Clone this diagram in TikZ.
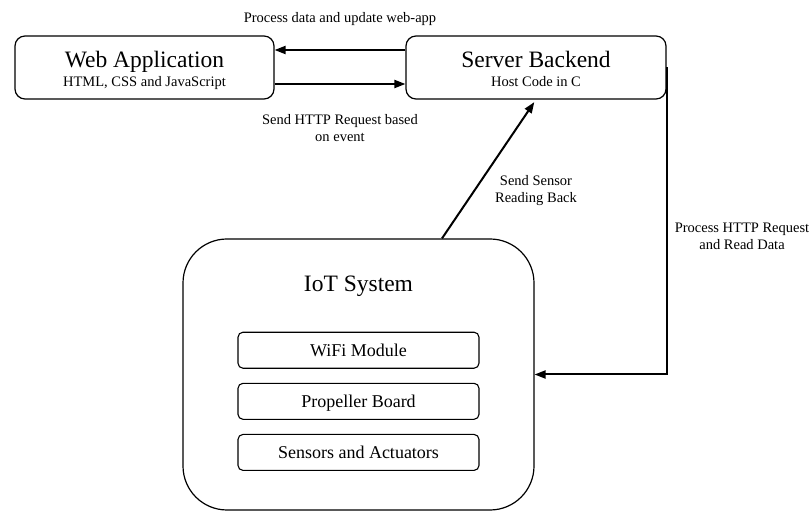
\documentclass[tikz,border=0pt]{standalone}
\usepackage{fontspec}
\setmainfont{Liberation Serif}
\usetikzlibrary{arrows.meta,positioning}

\begin{document}
\begin{tikzpicture}[
    x=1pt, y=1pt,
    node distance=14pt,
    every node/.style={align=center, inner sep=0pt},
    box/.style={rectangle, draw, line width=1.2pt, rounded corners=10pt, minimum width=259pt, minimum height=63pt},
    systembox/.style={rectangle, draw, line width=1.2pt, rounded corners=44pt, minimum width=351pt, minimum height=271pt},
    module/.style={rectangle, draw, line width=1.1pt, rounded corners=5pt, minimum width=241pt, minimum height=36pt, text height=13pt, text depth=0pt, font=\fontsize{18}{22}\selectfont},
    heading/.style={font=\fontsize{23.5}{28}\selectfont},
    lbl/.style={font=\fontsize{14.5}{17}\selectfont},
    arrow/.style={-{Triangle[length=11pt, width=8pt]}, line width=2pt}
]
\useasboundingbox (0,0) rectangle (811,522);

% web-app and backend
\node[box] (web) at (144.5,454.5) {};
\node[box, minimum width=260pt] (server) at (536,454.5) {};
\node[heading, anchor=base] (webtitle) at ([yshift=-0.5pt]web.center) {Web Application};
\node[lbl, anchor=base] (websub) at ([yshift=-19.5pt]web.center) {HTML, CSS and JavaScript};
\node[heading, anchor=base] (servertitle) at ([yshift=-0.5pt]server.center) {Server Backend};
\node[lbl, anchor=base] (serversub) at ([yshift=-19.5pt]server.center) {Host Code in C};

% the IoT system and its parts
\node[systembox] (iot) at (358.5,147.5) {};
\node[heading, anchor=base] (iottitle) at ([yshift=-53pt]iot.north) {IoT System};
\node[module, below=35pt of iottitle] (wifi) {WiFi Module};
\node[module, below=of wifi] (board) {Propeller Board};
\node[module, below=of board] (sensors) {Sensors and Actuators};

\draw[arrow] ([yshift=17.5pt]server.west) -- ([yshift=17.5pt]web.east);
\draw[arrow] ([yshift=-16.5pt]web.east) -- ([yshift=-16.5pt]server.west);
\draw[arrow, shorten >=3pt] ([xshift=83.5pt]iot.north) -- (server.south);
\draw[arrow] (server.east) |- (iot.east);

\node[lbl] (updatelbl) at (340,503) {Process data and update web-app};
\node[lbl] (requestlbl) at (340,394) {Send HTTP Request based\\on event};
\node[lbl] (readinglbl) at (536,331) {Send Sensor\\Reading Back};
\node[lbl] (processlbl) at (742,286) {Process HTTP Request\\and Read Data};
\end{tikzpicture}
\end{document}
